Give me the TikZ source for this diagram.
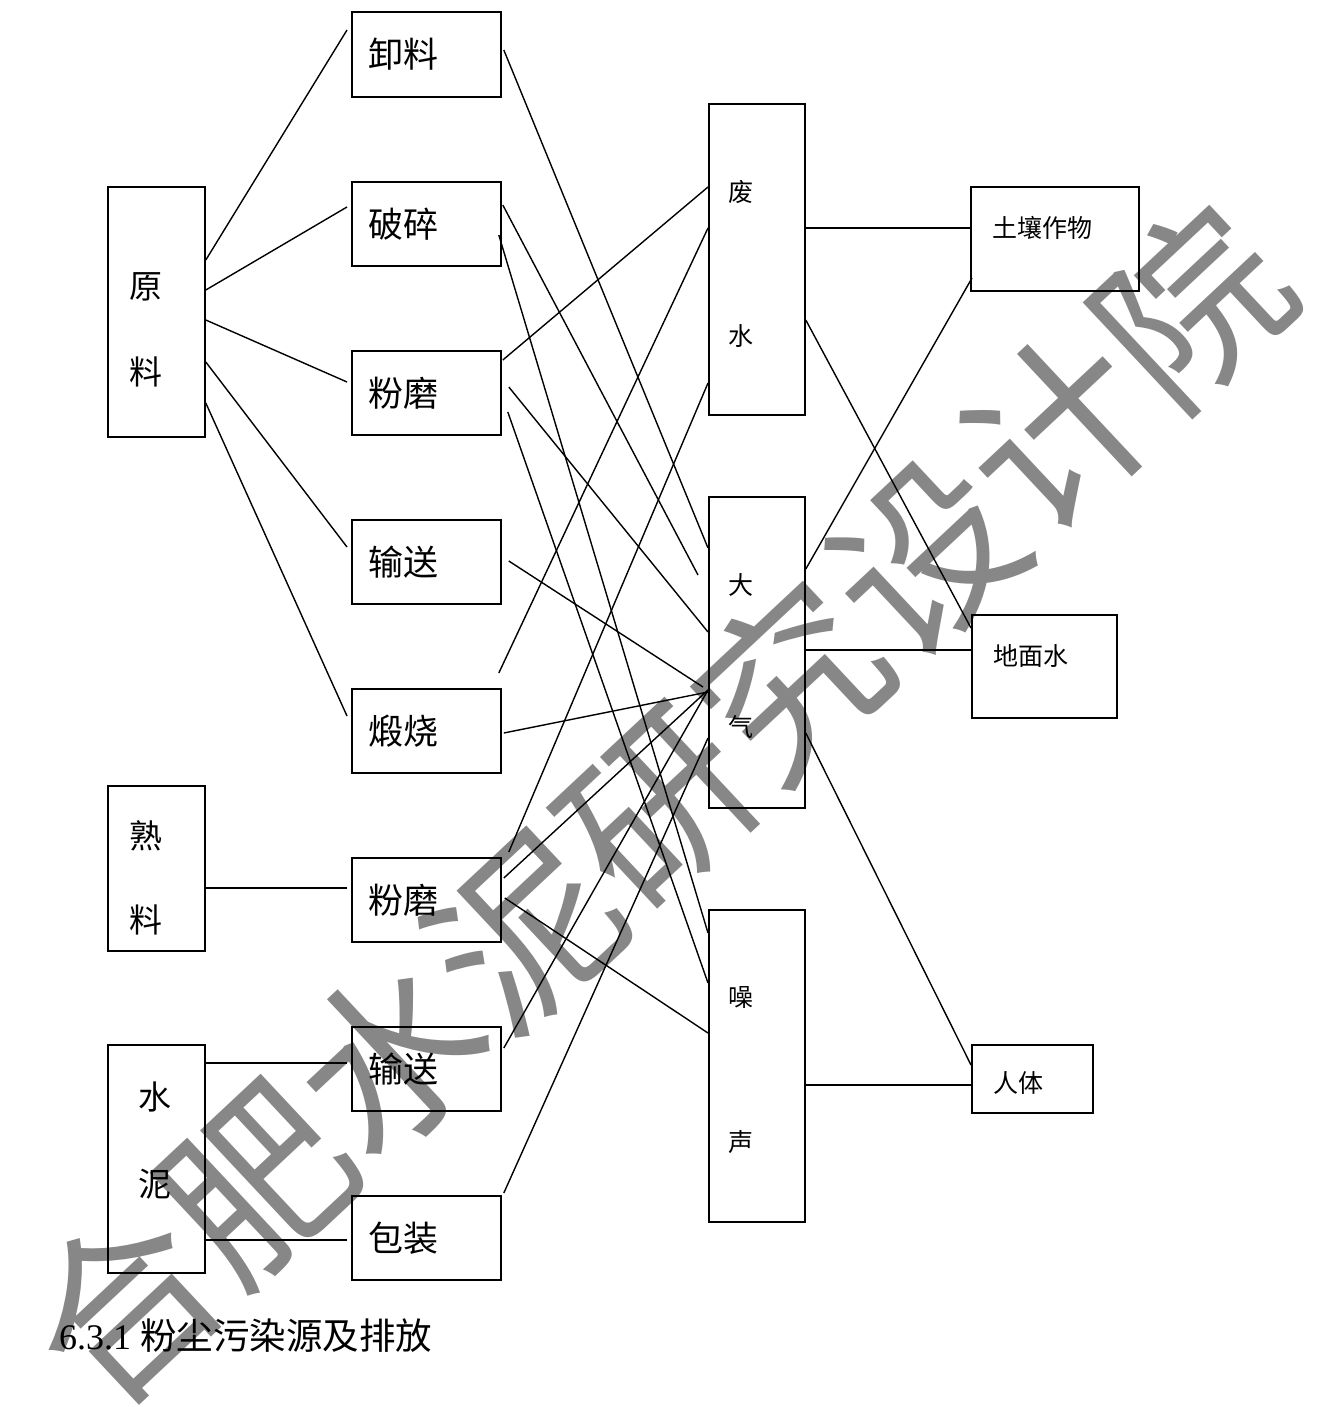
\documentclass[tikz,border=0pt]{standalone}
\usepackage{fontspec}
\setmainfont{Liberation Serif}
\newfontfamily\cjk{Noto Sans CJK SC}
\usetikzlibrary{calc}
\definecolor{wmgray}{RGB}{135,135,135}
\tikzset{
  box/.style={draw, line width=1.8pt, inner sep=0pt, anchor=north west},
  ln/.style={line width=1.4pt},
  tbig/.style={font=\cjk\fontsize{35}{40}\selectfont, inner sep=0pt, anchor=west},
  tvert/.style={font=\cjk\fontsize{33}{38}\selectfont, inner sep=0pt},
  tsmall/.style={font=\cjk\fontsize{25}{30}\selectfont, inner sep=0pt},
  wm/.style={font=\cjk\fontsize{183}{195}\selectfont, text=wmgray, inner sep=0pt},
}
\newcommand{\bx}[5]{\node[box, minimum width=#4pt, minimum height=#5pt] (#1) at (#2,#3) {};}
\begin{document}
\begin{tikzpicture}[x=1pt,y=-1pt]
\useasboundingbox (0,0) rectangle (1336,1407);
\fill[white] (0,0) rectangle (1336,1407);
% watermark
\node[wm, rotate=43.1] (wmk) at (657,806) {合肥水泥研究设计院};
% column 1
\bx{yl}{107}{186}{97}{250}
\bx{sl}{107}{785}{97}{165}
\bx{sn}{107}{1044}{97}{228}
% column 2
\bx{c1}{351}{11}{149}{85}
\bx{c2}{351}{181}{149}{84}
\bx{c3}{351}{350}{149}{84}
\bx{c4}{351}{519}{149}{84}
\bx{c5}{351}{688}{149}{84}
\bx{c6}{351}{857}{149}{84}
\bx{c7}{351}{1026}{149}{84}
\bx{c8}{351}{1195}{149}{84}
% column 3
\bx{fs}{708}{103}{96}{311}
\bx{dq}{708}{496}{96}{311}
\bx{zs}{708}{909}{96}{312}
% column 4
\bx{tr}{970}{186}{168}{104}
\bx{dm}{971}{614}{145}{103}
\bx{rt}{971}{1044}{121}{68}
% texts
\node[tvert] (t-yl1) at (146,287) {原};
\node[tvert] (t-yl2) at (146,372) {料};
\node[tvert] (t-sl1) at (146,836) {熟};
\node[tvert] (t-sl2) at (146,920) {料};
\node[tvert] (t-sn1) at (155,1097) {水};
\node[tvert] (t-sn2) at (155,1184) {泥};
\node[tbig] (t-c1) at ([xshift=17pt]c1.west) {卸料};
\node[tbig] (t-c2) at ([xshift=17pt]c2.west) {破碎};
\node[tbig] (t-c3) at ([xshift=17pt]c3.west) {粉磨};
\node[tbig] (t-c4) at ([xshift=17pt]c4.west) {输送};
\node[tbig] (t-c5) at ([xshift=17pt]c5.west) {煅烧};
\node[tbig] (t-c6) at ([xshift=17pt]c6.west) {粉磨};
\node[tbig] (t-c7) at ([xshift=17pt]c7.west) {输送};
\node[tbig] (t-c8) at ([xshift=17pt]c8.west) {包装};
\node[tsmall] (t-fs1) at (741,192) {废};
\node[tsmall] (t-fs2) at (741,336) {水};
\node[tsmall] (t-dq1) at (741,585) {大};
\node[tsmall] (t-dq2) at (741,727) {气};
\node[tsmall] (t-zs1) at (741,998) {噪};
\node[tsmall] (t-zs2) at (741,1142) {声};
\node[tsmall, anchor=west] (t-tr) at (992,228) {土壤作物};
\node[tsmall, anchor=west] (t-dm) at (993,656) {地面水};
\node[tsmall, anchor=west] (t-rt) at (993,1083) {人体};
% caption
\node[inner sep=0pt, anchor=west, font=\fontsize{36}{42}\selectfont] (cap) at (59,1336) {6.3.1 {\cjk\fontsize{36.5}{42}\selectfont 粉尘污染源及排放}};
% connectors column1 -> column2
\draw[ln] ($(yl.north east)+(0,74)$) -- ($(c1.north west)+(-4,19)$);
\draw[ln] ($(yl.north east)+(0,104)$) -- ($(c2.north west)+(-4,26)$);
\draw[ln] ($(yl.north east)+(0,134)$) -- ($(c3.north west)+(-4,32)$);
\draw[ln] ($(yl.north east)+(0,176)$) -- ($(c4.north west)+(-4,28)$);
\draw[ln] ($(yl.north east)+(0,217)$) -- ($(c5.north west)+(-4,28)$);
\draw[ln] ($(sl.north east)+(0,103)$) -- ($(c6.north west)+(-4,31)$);
\draw[ln] ($(sn.north east)+(0,19)$) -- ($(c7.north west)+(-4,37)$);
\draw[ln] ($(sn.north east)+(0,196)$) -- ($(c8.north west)+(-4,45)$);
% column2 -> column3
\draw[ln] ($(c1.north east)+(2,39)$) -- ($(dq.north west)+(0,52)$);
\draw[ln] ($(c2.north east)+(1,24)$) -- ($(dq.north west)+(-10,79)$);
\draw[ln] ($(c2.north east)+(-3,54)$) -- ($(zs.north west)+(0,24)$);
\draw[ln] ($(c3.north east)+(1,10)$) -- ($(fs.north west)+(0,84)$);
\draw[ln] ($(c3.north east)+(7,37)$) -- ($(dq.north west)+(0,136)$);
\draw[ln] ($(c3.north east)+(6,62)$) -- ($(zs.north west)+(0,74)$);
\draw[ln] ($(c4.north east)+(7,42)$) -- ($(dq.north west)+(-5,191)$);
\draw[ln] ($(c5.north east)+(2,45)$) -- ($(dq.north west)+(0,196)$);
\draw[ln] ($(fs.north west)+(0,125)$) -- ($(c5.north east)+(-3,-15)$);
\draw[ln] ($(fs.north west)+(0,280)$) -- ($(c6.north east)+(7,-5)$);
\draw[ln] ($(c6.north east)+(2,21)$) -- ($(dq.north west)+(0,194)$);
\draw[ln] ($(c6.north east)+(3,41)$) -- ($(zs.north west)+(0,124)$);
\draw[ln] ($(c7.north east)+(2,22)$) -- ($(dq.north west)+(0,194)$);
\draw[ln] ($(c8.north east)+(2,-2)$) -- ($(dq.north west)+(0,242)$);
% column3 -> column4
\draw[ln] ($(fs.north east)+(0,125)$) -- ($(tr.north west)+(2,42)$);
\draw[ln] ($(fs.north east)+(0,217)$) -- ($(dm.north west)+(0,14)$);
\draw[ln] ($(dq.north east)+(0,73)$) -- ($(tr.north west)+(2,92)$);
\draw[ln] ($(dq.north east)+(0,154)$) -- ($(dm.north west)+(0,36)$);
\draw[ln] ($(dq.north east)+(0,237)$) -- ($(rt.north west)+(0,21)$);
\draw[ln] ($(zs.north east)+(0,176)$) -- ($(rt.north west)+(0,41)$);
\end{tikzpicture}
\end{document}
